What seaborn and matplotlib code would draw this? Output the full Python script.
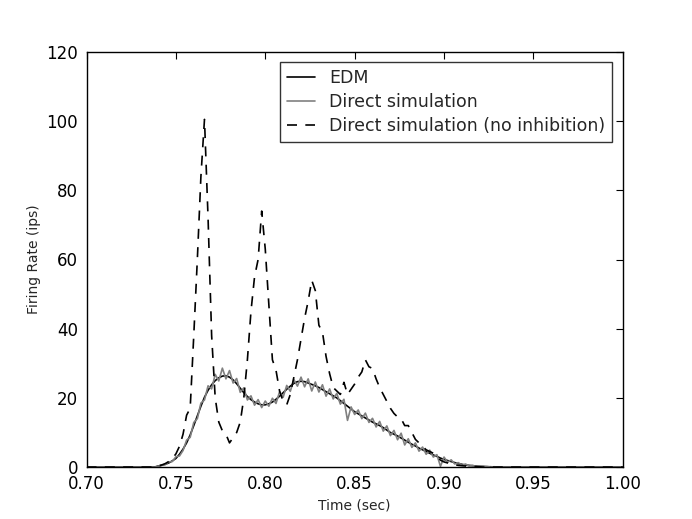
import numpy as np
import pandas as pd
import matplotlib
matplotlib.use("Agg")
import matplotlib.pyplot as plt
import seaborn as sns

# time grid: 2 ms bins over the active window 0.740 .. 0.930 s
t_start, t_step = 0.740, 0.002

edm = [0.3, 0.5, 0.8, 1.2, 1.8, 2.5, 3.7, 5.2, 7.0, 9.3,
       12.0, 14.8, 17.6, 20.2, 22.2, 23.8, 25.0, 25.8, 26.3, 26.4,
       26.0, 25.2, 24.1, 22.8, 21.5, 20.4, 19.5, 18.8, 18.3, 18.0,
       18.0, 18.3, 18.8, 19.6, 20.5, 21.5, 22.5, 23.4, 24.2, 24.7,
       24.8, 24.7, 24.3, 23.9, 23.5, 23.0, 22.4, 21.8, 21.2, 20.6,
       20.0, 19.2, 18.4, 17.6, 16.8, 16.0, 15.4, 14.8, 14.2, 13.6,
       13.0, 12.5, 12.0, 11.4, 10.7, 10.0, 9.5, 9.0, 8.4, 7.8,
       7.2, 6.6, 6.1, 5.5, 5.0, 4.5, 4.0, 3.5, 3.1, 2.6,
       2.2, 1.9, 1.6, 1.3, 1.0, 0.8, 0.6, 0.5, 0.4, 0.3,
       0.2, 0.2, 0.1, 0.1, 0.05, 0.0]

direct = [0.2, 0.6, 0.7, 1.5, 1.6, 3.0, 3.2, 4.8, 7.8, 8.6,
          12.9, 14.0, 18.5, 19.4, 23.5, 22.6, 26.8, 24.9, 28.6, 25.5,
          27.9, 24.3, 25.6, 21.6, 22.9, 19.4, 20.6, 17.9, 19.5, 17.2,
          19.1, 17.6, 19.9, 18.4, 21.8, 20.2, 23.6, 21.9, 25.3, 23.4,
          26.0, 23.2, 25.5, 22.0, 24.6, 21.7, 23.8, 20.5, 22.6, 19.7,
          21.3, 18.2, 19.6, 13.5, 17.4, 15.2, 16.5, 14.0, 15.6, 12.9,
          14.1, 11.6, 13.2, 10.4, 11.9, 9.1, 10.6, 7.9, 9.8, 6.4,
          8.2, 5.7, 7.0, 4.6, 5.8, 3.7, 4.9, 2.9, 3.6, 0.2,
          2.9, 1.4, 2.1, 0.9, 1.3, 0.5, 0.9, 0.3, 0.5, 0.2,
          0.3, 0.1, 0.2, 0.0, 0.1, 0.0]

no_inhib = [0.3, 0.6, 1.0, 1.6, 2.5, 3.8, 6.0, 9.5, 15.0, 17.0,
            38.0, 60.0, 84.0, 100.5, 72.0, 38.0, 20.0, 13.0, 10.5, 9.5,
            7.0, 8.5, 10.0, 13.0, 20.0, 31.0, 45.0, 55.0, 60.0, 74.0,
            63.0, 47.0, 31.0, 28.0, 22.0, 19.0, 18.0, 21.0, 26.0, 31.0,
            37.0, 43.0, 48.0, 54.0, 51.0, 41.0, 39.0, 32.0, 27.0, 23.0,
            22.0, 21.0, 24.5, 21.0, 22.5, 24.0, 26.0, 27.5, 31.0, 29.0,
            28.5, 25.5, 23.0, 21.0, 19.0, 17.0, 15.5, 14.5, 14.0, 12.0,
            12.0, 10.0, 8.0, 7.0, 6.0, 5.0, 4.5, 4.0, 3.0, 2.0,
            1.5, 1.2, 0.9, 0.7, 0.5, 0.4, 0.3, 0.2, 0.2, 0.1,
            0.1, 0.0, 0.0, 0.0, 0.0, 0.0]

x_ticks = [0.70, 0.75, 0.80, 0.85, 0.90, 0.95, 1.00]
y_ticks = [0, 20, 40, 60, 80, 100, 120]

# pad with the flat zero stretches before and after the active window
n_pre, n_post = 20, 35
t = np.round(0.70 + t_step * np.arange(n_pre + len(edm) + n_post), 4)
pad = lambda v: [0.0] * n_pre + v + [0.0] * n_post
df = pd.DataFrame({"t": t, "edm": pad(edm), "direct": pad(direct),
                   "no_inhib": pad(no_inhib)})

sns.set_theme(style="white")
plt.rcParams["font.family"] = ["DejaVu Sans"]

fig = plt.figure(figsize=(6.92, 5.19), dpi=100)
ax = fig.add_axes([0.125, 0.1, 0.775, 0.8])

sns.lineplot(data=df, x="t", y="edm", color="black", lw=1.2, label="EDM", ax=ax)
sns.lineplot(data=df, x="t", y="direct", color="#808080", lw=1.2,
             label="Direct simulation", ax=ax)
sns.lineplot(data=df, x="t", y="no_inhib", color="black", lw=1.2,
             linestyle=(0, (6, 5)), label="Direct simulation (no inhibition)", ax=ax)

ax.set_xlim(0.70, 1.00)
ax.set_ylim(0, 120)
ax.set_xticks(x_ticks)
ax.set_xticklabels([f"{v:.2f}" for v in x_ticks])
ax.set_yticks(y_ticks)
ax.set_xlabel("Time (sec)", fontsize=10)
ax.set_ylabel("Firing Rate (ips)", fontsize=10)
ax.tick_params(direction="in", length=5, width=0.8, top=True, right=True,
               labelsize=12, colors="black", pad=6)
for s in ax.spines.values():
    s.set_color("black")
    s.set_linewidth(1.0)

leg = ax.legend(loc="upper right", fontsize=12.5, frameon=True, fancybox=False,
                borderaxespad=0.6, handlelength=1.6, handletextpad=0.85,
                labelspacing=0.35, borderpad=0.4)
leg.get_frame().set_edgecolor("black")
leg.get_frame().set_linewidth(1.0)

fig.savefig("out.png", dpi=100, facecolor="white")
